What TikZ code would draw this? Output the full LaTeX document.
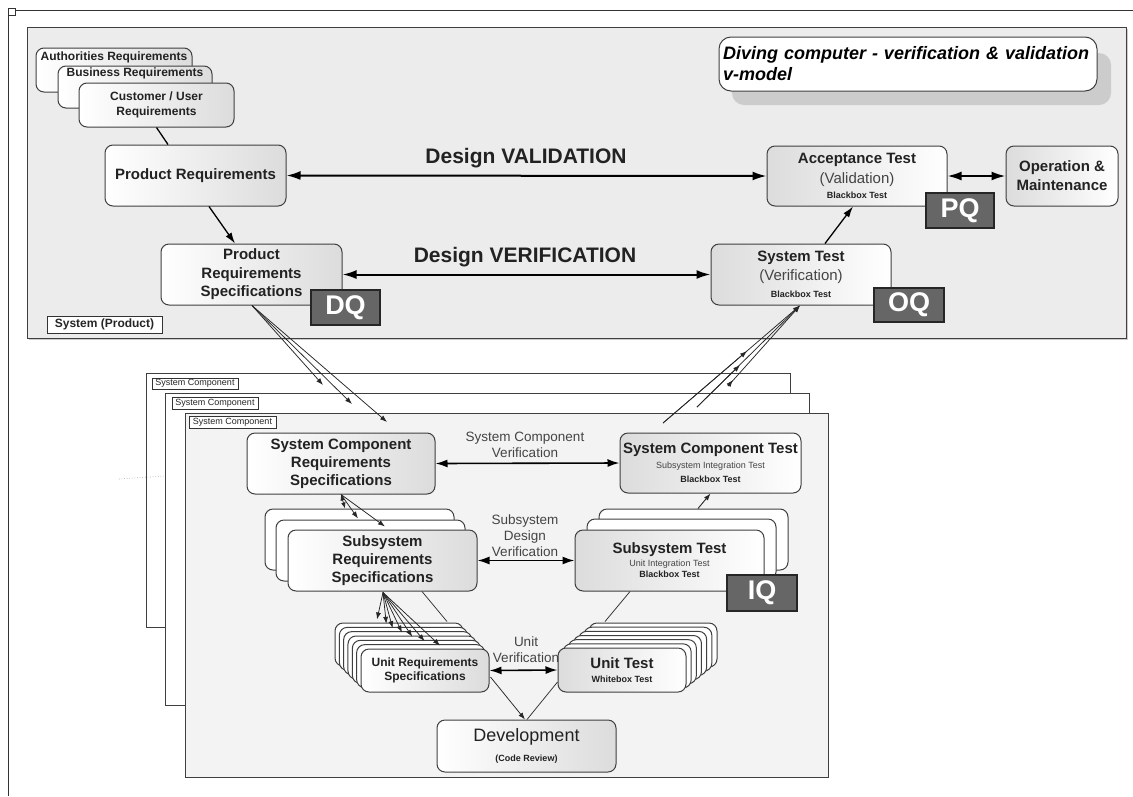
\documentclass[tikz,border=0pt]{standalone}
\usepackage{fontspec}
\setmainfont{Liberation Sans}
\usetikzlibrary{arrows.meta,calc}
\newcommand\myfs[2]{\fontsize{#1}{#2}\selectfont}
\definecolor{edge}{HTML}{3F3F3F}
\definecolor{panelgray}{HTML}{ECECEC}
\definecolor{frontgray}{HTML}{F3F3F3}
\definecolor{shade}{HTML}{DCDCDC}
\definecolor{qgray}{HTML}{666666}
\definecolor{txt}{HTML}{222222}
\definecolor{soft}{HTML}{444444}
\begin{document}
\begin{tikzpicture}[x=1pt,y=-1pt,
  box/.style={draw=edge, line width=1pt, rounded corners=8pt, inner sep=0pt, align=center, text=txt},
  reqbox/.style={box, left color=white, right color=shade},
  testbox/.style={box, left color=shade, right color=white},
  backbox/.style={box, fill=white},
  panelbox/.style={draw=edge, line width=1pt, inner sep=0pt},
  qbox/.style={draw=black!85, fill=qgray, line width=1.5pt, text=white, font=\myfs{27}{27}\bfseries, inner sep=0pt},
  tagbox/.style={draw=black!80, fill=white, line width=0.8pt, inner sep=0pt, text=black!85},
  lbl/.style={font=\myfs{13.5}{16}, text=soft, align=center, inner sep=0pt},
  biglbl/.style={font=\myfs{21}{24}\bfseries, text=txt, inner sep=0pt},
  bigarrow/.style={draw=black, line width=2pt, {Latex[length=14pt,width=9pt]}-{Latex[length=14pt,width=9pt]}},
  dblarrow/.style={draw=black, line width=1.6pt, {Latex[length=12pt,width=8pt]}-{Latex[length=12pt,width=8pt]}},
  arr/.style={draw=black, line width=1.3pt, -{Latex[length=11pt,width=7pt]}},
  fan/.style={draw=black!85, line width=0.75pt, -{Latex[length=7pt,width=5pt]}},
  thinline/.style={draw=black!80, line width=0.75pt},
]
\fill[white] (0,0) rectangle (1133,796);
\useasboundingbox (0,0) rectangle (1133,796);
% outer frame
\draw[line width=1pt, black!80] (8.5,796) -- (8.5,10) -- (1133,10);
\draw[line width=0.8pt, black!80, fill=white] (8,8) rectangle (15,15);

% ---------- system (product) panel ----------
\fill[black!20] (28.5,28.5) rectangle (1127.5,339.5);
\node[panelbox, fill=panelgray, minimum width=1099pt, minimum height=311pt] (sysprod) at (576.5,182.5) {};

% title
\node[fill=black!20, rounded corners=12pt, minimum width=379pt, minimum height=52pt, inner sep=0pt] (titleshadow) at (921.5,79) {};
\node[draw=edge, line width=1pt, fill=white, rounded corners=12pt, minimum width=378pt, minimum height=54pt, text width=370pt, align=left, inner sep=0pt, font=\myfs{18}{21}\bfseries\itshape, text=black] (title) at (908,64) {Diving computer - verification \& validation\\v-model};

% stacked requirements
\node[reqbox, minimum width=156pt, text height=12pt, text depth=32pt, font=\myfs{12}{14}\bfseries] (auth) at (114,70) {Authorities Requirements};
\node[reqbox, minimum width=154pt, text height=10.5pt, text depth=31.5pt, font=\myfs{12}{14}\bfseries] (bus) at (135,87) {Business Requirements};
\node[reqbox, minimum width=155pt, minimum height=44pt, font=\myfs{12}{15}\bfseries] (cust) at (156.5,105) {Customer / User\\Requirements};

\node[reqbox, minimum width=181pt, minimum height=61pt, font=\myfs{15}{18}\bfseries] (pr) at (195.5,175.5) {Product Requirements};
\node[reqbox, minimum width=181pt, minimum height=61pt, font=\myfs{15}{18.5}\bfseries] (prs) at (251.5,274.5) {Product\\Requirements\\Specifications};
\node[qbox, minimum width=69pt, minimum height=35pt] (dq) at (345.5,307.5) {DQ};
\node[tagbox, minimum width=115pt, minimum height=17pt, font=\myfs{12}{14}\bfseries] (systag) at (104.5,324.5) {System (Product)};

\node[testbox, minimum width=180pt, minimum height=60pt, font=\myfs{15}{18}] (at) at (857,176) {\textbf{Acceptance Test}\\[2pt]\textcolor{soft}{(Validation)}\\[-3pt]{\myfs{9}{11}\bfseries Blackbox Test}};
\node[testbox, minimum width=112pt, minimum height=60pt, font=\myfs{15}{19}\bfseries] (om) at (1062,176) {Operation \&\\Maintenance};
\node[qbox, minimum width=68pt, minimum height=35pt] (pq) at (960,210.5) {PQ};

\node[testbox, minimum width=180pt, minimum height=61pt, font=\myfs{15}{18}] (st) at (801,274.5) {\textbf{System Test}\\[1pt]\textcolor{soft}{(Verification)}\\[-1pt]{\myfs{9}{11}\bfseries Blackbox Test}};
\node[qbox, minimum width=70pt, minimum height=34pt] (oq) at (909,305) {OQ};

\node[biglbl] (dval) at (526,158) {Design VALIDATION};
\node[biglbl] (dver) at (525,257) {Design VERIFICATION};

\draw[line width=1.3pt] (cust.south) -- ($(pr.north)+(-27.5,0)$);
\draw[arr] ($(pr.south)+(13.5,0)$) -- ($(prs.north)+(-16.5,0)$);
\draw[arr] ($(st.north)+(24,0)$) -- ($(at.south)+(-4,0)$);
\draw[bigarrow] (pr.east) -- (at.west);
\draw[bigarrow] (prs.east) -- (st.west);
\draw[bigarrow] (at.east) -- (om.west);

% ---------- system component panels ----------
\node[panelbox, fill=white, minimum width=644pt, minimum height=254pt] (comp1) at (468,500) {};
\node[tagbox, minimum width=86pt, minimum height=11pt, font=\myfs{9}{10}] (tag1) at (195,383.5) {System Component};
\node[panelbox, fill=white, minimum width=644pt, minimum height=312pt] (comp2) at (487,549) {};
\node[tagbox, minimum width=86pt, minimum height=12pt, font=\myfs{9}{10}] (tag2) at (215,403) {System Component};
\node[panelbox, fill=frontgray, minimum width=643pt, minimum height=364pt] (comp3) at (506.5,595) {};
\node[tagbox, minimum width=87pt, minimum height=12pt, font=\myfs{9}{10}] (tag3) at (232.5,422) {System Component};

\draw[black!40, dotted, line width=0.6pt] (119,479) -- (165,476);

\node[reqbox, minimum width=188pt, minimum height=61pt, font=\myfs{15}{18}\bfseries] (scrs) at (341,463.5) {System Component\\Requirements\\Specifications};
\node[testbox, minimum width=181pt, minimum height=60pt, font=\myfs{15}{18}] (sct) at (710.5,463) {\textbf{System Component Test}\\[-3pt]{\myfs{9}{11}\color{soft}Subsystem Integration Test}\\[-4pt]{\myfs{9}{11}\bfseries Blackbox Test}};

\node[backbox, minimum width=189pt, minimum height=61pt] (srs1) at (359.5,539.5) {};
\node[backbox, minimum width=189pt, minimum height=61pt] (srs2) at (370.5,550.5) {};
\node[reqbox, minimum width=189pt, minimum height=61pt, font=\myfs{15}{18}\bfseries] (srs3) at (382.5,560.5) {Subsystem\\Requirements\\Specifications};

\node[backbox, minimum width=189pt, minimum height=61pt] (sst1) at (693.5,539.5) {};
\node[backbox, minimum width=189pt, minimum height=61pt] (sst2) at (681.5,549.5) {};
\node[testbox, minimum width=189pt, minimum height=61pt, font=\myfs{15}{18}] (sst3) at (669.5,560.5) {\textbf{Subsystem Test}\\[-5pt]{\myfs{9}{11}\color{soft}Unit Integration Test}\\[-7pt]{\myfs{9}{11}\bfseries Blackbox Test}};
\node[qbox, minimum width=70pt, minimum height=36pt] (iq) at (762,593) {IQ};

\foreach \k in {0,...,5}
  \node[backbox, minimum width=128pt, minimum height=43pt] (ur\k) at ({399+4.33*\k},{644.5+4.33*\k}) {};
\node[reqbox, minimum width=128pt, minimum height=43pt, font=\myfs{12}{14}\bfseries] (ur6) at (425,670.5) {Unit Requirements\\Specifications};

\foreach \k in {0,...,5}
  \node[backbox, minimum width=128pt, minimum height=44pt] (ut\k) at ({653-5.17*\k},{645+4.17*\k}) {};
\node[testbox, minimum width=128pt, minimum height=44pt, font=\myfs{15}{18}\bfseries] (ut6) at (622,670) {Unit Test\\[-4pt]{\myfs{9}{11}Whitebox Test}};

\node[reqbox, minimum width=179pt, minimum height=52pt, font=\myfs{18}{21.6}] (dev) at (526.5,746) {Development\\[-1pt]{\myfs{9}{11}\bfseries (Code Review)}};

\node[lbl] (scv) at (525,445) {System Component\\Verification};
\node[lbl] (sdv) at (525,536) {Subsystem\\Design\\Verification};
\node[lbl] (uv) at (526,650) {Unit\\Verification};

% ---------- connectors ----------
\coordinate (d1) at (323,385);
\coordinate (d2) at (352,404);
\coordinate (d3) at (387,422);
\foreach \c in {d1,d2,d3}
  \draw[fan] ($(prs.south)+(0.5,0)$) -- (\c);

\coordinate (u1) at (663,423);
\coordinate (u2) at (697,407);
\coordinate (u3) at (728,386);
\coordinate (m1) at (747,351);
\coordinate (m2) at (740,365);
\coordinate (m3) at (733,380);
\foreach \i in {1,2,3} {
  \draw[fan] (u\i) -- ($(st.south)+(-1,0)$);
  \draw[fan] (u\i) -- (m\i);
}

\draw[dblarrow] (scrs.east) -- (sct.west);
\draw[dblarrow] (srs3.east) -- (sst3.west);
\draw[dblarrow] (ur6.east) -- (ut6.west);

\draw[fan, line width=0.9pt] ($(sst1.north)+(4.5,0)$) -- (sct.south);

\draw[fan, {Latex[length=6pt,width=4.5pt]}-{Latex[length=6pt,width=4.5pt]}] (scrs.south) -- ($(srs1.north)+(-14.5,0)$);
\draw[fan] (scrs.south) -- ($(srs2.north)+(-12.5,-1)$);
\draw[fan] (scrs.south) -- ($(srs3.north)+(2.5,-3)$);

\foreach \k/\dx in {0/-22,1/-17,2/-15,3/-10,4/-4,5/4,6/15}
  \draw[fan] ($(srs3.south)+(0.5,1)$) -- ($(ur\k.north)+(\dx,-3)$);

\draw[thinline] ($(srs3.south)+(39.5,0)$) -- ($(ur0.north)+(48,-1)$);
\draw[thinline] ($(sst3.south)+(-39.5,0)$) -- ($(ut0.north)+(-48,-1)$);
\draw[fan] ($(ur6.east)+(1,6.5)$) -- ($(dev.north)+(-1.5,0)$);
\draw[thinline] ($(ut6.west)+(0,12)$) -- ($(dev.north)+(0.5,0)$);
\end{tikzpicture}
\end{document}
